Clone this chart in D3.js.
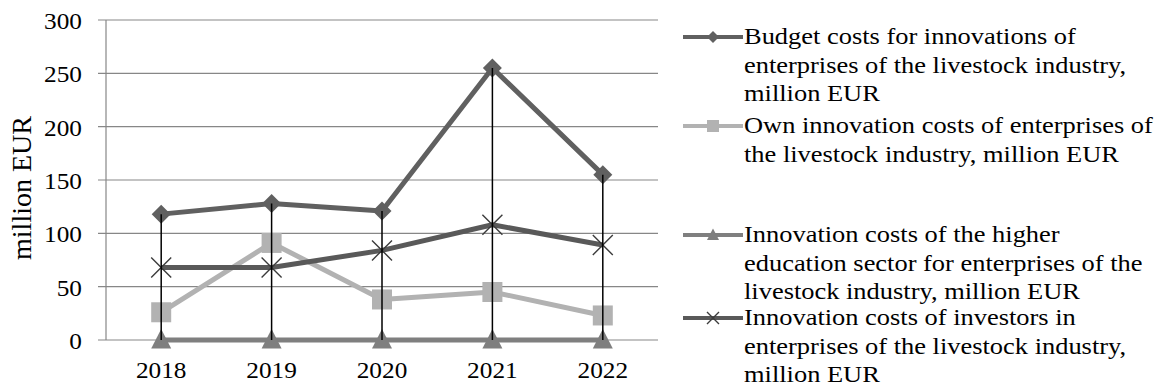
<!DOCTYPE html>
<html>
<head>
<meta charset="utf-8">
<script src="https://cdn.jsdelivr.net/npm/d3@7"></script>
<style>
  body { margin: 0; background: #fff; }
  text { font-family: "Liberation Serif", "Times New Roman", serif; fill: #000; }
</style>
</head>
<body>
<svg width="1165" height="390"></svg>
<script>
const years = ['2018', '2019', '2020', '2021', '2022'];
const yTicks = [0, 50, 100, 150, 200, 250, 300];

const budget    = [118, 128, 121, 255, 155];
const own       = [26, 91, 38, 45, 23];
const higherEdu = [0, 0, 0, 0, 0];
const investors = [68, 68, 84, 108, 89];

const seriesNames = [
  ['Budget costs for innovations of', 'enterprises of the livestock industry,', 'million EUR'],
  ['Own innovation costs of enterprises of', 'the livestock industry, million EUR'],
  ['Innovation costs of the higher', 'education sector for enterprises of the', 'livestock industry, million EUR'],
  ['Innovation costs of investors in', 'enterprises of the livestock industry,', 'million EUR']
];

const series = [
  {name: seriesNames[0], values: budget,    color: '#606060', marker: 'diamond'},
  {name: seriesNames[1], values: own,       color: '#b2b2b2', marker: 'square'},
  {name: seriesNames[2], values: higherEdu, color: '#7f7f7f', marker: 'triangle'},
  {name: seriesNames[3], values: investors, color: '#595959', marker: 'cross'}
];

const svg = d3.select('svg');
const margin = {left: 106, right: 507, top: 20, bottom: 50};
const width  = +svg.attr('width');
const height = +svg.attr('height');
const fs = 23; // the reference text is a bit stretched sideways, so scale x

const x = d3.scaleBand().domain(years).range([margin.left, width - margin.right]);
const y = d3.scaleLinear().domain([0, 300]).range([height - margin.bottom, margin.top]);
const cx = d => x(d) + x.bandwidth() / 2;

function stretched(sel, tx, ty, sx) {
  return sel.attr('transform', `translate(${tx},${ty}) scale(${sx},1)`);
}

// gridlines + y ticks
const grid = svg.append('g');
grid.selectAll('line').data(yTicks).enter().append('line')
  .attr('x1', margin.left - 8).attr('x2', width - margin.right)
  .attr('y1', d => y(d)).attr('y2', d => y(d))
  .attr('stroke', '#878787').attr('stroke-width', 1.2);
grid.append('line')
  .attr('x1', margin.left).attr('x2', margin.left)
  .attr('y1', y(300)).attr('y2', y(0))
  .attr('stroke', '#878787').attr('stroke-width', 1.2);

grid.selectAll('text.yt').data(yTicks).enter().append('text')
  .attr('class', 'yt')
  .attr('text-anchor', 'end').attr('font-size', fs)
  .each(function(d) { stretched(d3.select(this), 82, y(d) + 9, 1.1); })
  .text(d => d);

svg.selectAll('text.xt').data(years).enter().append('text')
  .attr('class', 'xt')
  .attr('text-anchor', 'middle').attr('font-size', fs)
  .each(function(d) { stretched(d3.select(this), cx(d), 378, 1.1); })
  .text(d => d);

svg.append('text')
  .attr('transform', 'translate(31,188) rotate(-90)')
  .attr('text-anchor', 'middle').attr('font-size', 28)
  .text('million EUR');

// markers
function drawMarker(g, type, px, py, size, color) {
  const h = size / 2;
  if (type === 'diamond') {
    g.append('path').attr('d', `M${px},${py - h}L${px + h},${py}L${px},${py + h}L${px - h},${py}Z`).attr('fill', color);
  } else if (type === 'square') {
    g.append('rect').attr('x', px - h).attr('y', py - h).attr('width', size).attr('height', size).attr('fill', color);
  } else if (type === 'triangle') {
    g.append('path').attr('d', `M${px},${py - h * 1.1}L${px + h},${py + h * 0.85}L${px - h},${py + h * 0.85}Z`).attr('fill', color);
  } else {
    g.append('path').attr('d', `M${px - h},${py - h}L${px + h},${py + h}M${px - h},${py + h}L${px + h},${py - h}`)
      .attr('stroke', '#3c3c3c').attr('stroke-width', 1.4).attr('fill', 'none');
  }
}

const line = d3.line().x((d, i) => cx(years[i])).y(d => y(d));
const plot = svg.append('g');
series.forEach(s => {
  plot.append('path').datum(s.values)
    .attr('d', line).attr('fill', 'none')
    .attr('stroke', s.color).attr('stroke-width', 5).attr('stroke-linejoin', 'round');
});
series.forEach(s => {
  s.values.forEach((v, i) => drawMarker(plot, s.marker, cx(years[i]), y(v), s.marker === 'diamond' ? 19 : 20, s.color));
});

// high-low lines
plot.selectAll('line.hl').data(years).enter().append('line')
  .attr('class', 'hl')
  .attr('x1', d => cx(d)).attr('x2', d => cx(d))
  .attr('y1', (d, i) => y(d3.max(series, s => s.values[i])))
  .attr('y2', (d, i) => y(d3.min(series, s => s.values[i])))
  .attr('stroke', '#000').attr('stroke-width', 1.5);

// legend
const legendY = [37, 126, 235, 318];
const lineGap = 28.7;
const legend = svg.append('g');
series.forEach((s, k) => {
  const ly = legendY[k];
  legend.append('line').attr('x1', 683).attr('x2', 743).attr('y1', ly).attr('y2', ly)
    .attr('stroke', s.color).attr('stroke-width', 4);
  drawMarker(legend, s.marker, 713, ly, 12, s.color);
  s.name.forEach((t, j) => {
    legend.append('text').attr('font-size', fs)
      .call(sel => stretched(sel, 744, ly + j * lineGap + 7, 1.15))
      .text(t);
  });
});
</script>
</body>
</html>
